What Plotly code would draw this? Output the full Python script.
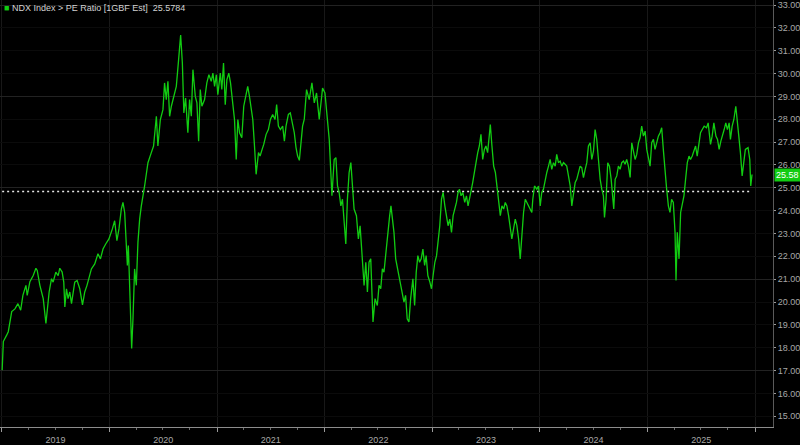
import datetime as dt
import plotly.graph_objects as go

# ---- data (decimal year, PE ratio) ----
years_t = [
    2019.004, 2019.015, 2019.046, 2019.061, 2019.093, 2019.123, 2019.151, 2019.176, 2019.197, 2019.225,
    2019.237, 2019.262, 2019.293, 2019.318, 2019.330, 2019.355, 2019.386, 2019.411, 2019.441, 2019.463,
    2019.478, 2019.503, 2019.525, 2019.540, 2019.562, 2019.577, 2019.587, 2019.602, 2019.617, 2019.633,
    2019.649, 2019.679, 2019.701, 2019.726, 2019.751, 2019.772, 2019.793, 2019.812, 2019.834, 2019.865,
    2019.895, 2019.918, 2019.942, 2019.967, 2019.997, 2020.029, 2020.050, 2020.071, 2020.090, 2020.112,
    2020.127, 2020.143, 2020.158, 2020.168, 2020.177, 2020.189, 2020.198, 2020.208, 2020.220, 2020.235,
    2020.251, 2020.266, 2020.282, 2020.297, 2020.328, 2020.359, 2020.390, 2020.411, 2020.437, 2020.451,
    2020.474, 2020.498, 2020.513, 2020.529, 2020.544, 2020.560, 2020.576, 2020.597, 2020.622, 2020.643,
    2020.662, 2020.678, 2020.692, 2020.708, 2020.729, 2020.745, 2020.761, 2020.776, 2020.798, 2020.813,
    2020.829, 2020.844, 2020.859, 2020.884, 2020.905, 2020.924, 2020.946, 2020.961, 2020.977, 2020.993,
    2021.007, 2021.030, 2021.044, 2021.060, 2021.076, 2021.091, 2021.109, 2021.125, 2021.146, 2021.162,
    2021.178, 2021.193, 2021.209, 2021.230, 2021.248, 2021.271, 2021.285, 2021.301, 2021.317, 2021.332,
    2021.348, 2021.363, 2021.385, 2021.400, 2021.419, 2021.434, 2021.456, 2021.477, 2021.496, 2021.517,
    2021.539, 2021.554, 2021.570, 2021.589, 2021.610, 2021.626, 2021.641, 2021.663, 2021.681, 2021.697,
    2021.718, 2021.734, 2021.749, 2021.765, 2021.795, 2021.811, 2021.832, 2021.857, 2021.882, 2021.904,
    2021.925, 2021.950, 2021.981, 2022.003, 2022.027, 2022.043, 2022.068, 2022.089, 2022.105, 2022.120,
    2022.135, 2022.151, 2022.166, 2022.182, 2022.197, 2022.212, 2022.228, 2022.244, 2022.259, 2022.274,
    2022.296, 2022.314, 2022.330, 2022.351, 2022.367, 2022.383, 2022.398, 2022.413, 2022.429, 2022.450,
    2022.469, 2022.490, 2022.506, 2022.522, 2022.537, 2022.552, 2022.574, 2022.592, 2022.605, 2022.617,
    2022.629, 2022.645, 2022.661, 2022.679, 2022.698, 2022.716, 2022.738, 2022.753, 2022.768, 2022.784,
    2022.800, 2022.821, 2022.837, 2022.852, 2022.867, 2022.883, 2022.898, 2022.914, 2022.930, 2022.944,
    2022.960, 2022.979, 2022.994, 2023.009, 2023.025, 2023.041, 2023.056, 2023.071, 2023.087, 2023.102,
    2023.118, 2023.133, 2023.148, 2023.164, 2023.180, 2023.195, 2023.210, 2023.226, 2023.241, 2023.254,
    2023.269, 2023.285, 2023.303, 2023.319, 2023.334, 2023.349, 2023.365, 2023.377, 2023.393, 2023.408,
    2023.424, 2023.439, 2023.454, 2023.470, 2023.486, 2023.500, 2023.516, 2023.526, 2023.541, 2023.556,
    2023.572, 2023.588, 2023.602, 2023.618, 2023.634, 2023.649, 2023.665, 2023.680, 2023.695, 2023.711,
    2023.727, 2023.741, 2023.757, 2023.773, 2023.788, 2023.804, 2023.819, 2023.834, 2023.850, 2023.866,
    2023.880, 2023.896, 2023.912, 2023.927, 2023.936, 2023.952, 2023.973, 2023.989, 2024.005, 2024.019,
    2024.035, 2024.051, 2024.066, 2024.082, 2024.097, 2024.112, 2024.128, 2024.144, 2024.158, 2024.174,
    2024.190, 2024.205, 2024.221, 2024.236, 2024.251, 2024.267, 2024.283, 2024.298, 2024.313, 2024.329,
    2024.344, 2024.360, 2024.375, 2024.390, 2024.406, 2024.422, 2024.437, 2024.452, 2024.468, 2024.483,
    2024.499, 2024.514, 2024.529, 2024.545, 2024.561, 2024.576, 2024.591, 2024.601, 2024.616, 2024.631,
    2024.647, 2024.663, 2024.677, 2024.687, 2024.700, 2024.715, 2024.730, 2024.746, 2024.761, 2024.777,
    2024.792, 2024.807, 2024.823, 2024.839, 2024.854, 2024.869, 2024.885, 2024.900, 2024.916, 2024.931,
    2024.946, 2024.962, 2024.978, 2024.993, 2025.008, 2025.024, 2025.039, 2025.055, 2025.070, 2025.085,
    2025.101, 2025.117, 2025.132, 2025.147, 2025.163, 2025.178, 2025.194, 2025.209, 2025.224, 2025.240,
    2025.256, 2025.265, 2025.277, 2025.293, 2025.308, 2025.323, 2025.339, 2025.354, 2025.370, 2025.386,
    2025.400, 2025.416, 2025.432, 2025.447, 2025.462, 2025.478, 2025.493, 2025.509, 2025.527, 2025.549,
    2025.564, 2025.586, 2025.601, 2025.617, 2025.636, 2025.651, 2025.666, 2025.682, 2025.697, 2025.713,
    2025.728, 2025.743, 2025.759, 2025.771, 2025.787, 2025.803, 2025.821, 2025.836, 2025.849, 2025.864,
    2025.880, 2025.895, 2025.910, 2025.935, 2025.951, 2025.960, 2025.972,
]

pe_ratio = [
    17.02, 18.27, 18.55, 18.70, 19.58, 19.70, 19.93, 19.64, 20.29, 20.73,
    20.29, 20.89, 21.16, 21.48, 21.38, 20.73, 20.15, 19.06, 20.44, 21.02,
    20.87, 21.31, 21.16, 21.48, 21.31, 20.87, 19.78, 20.58, 20.15, 20.44,
    19.93, 20.87, 20.94, 20.58, 19.88, 20.44, 20.73, 21.09, 21.45, 21.67,
    22.11, 21.89, 22.32, 22.54, 22.76, 23.20, 23.56, 22.69, 23.20, 24.07,
    24.36, 23.92, 22.47, 21.60, 22.47, 20.44, 18.84, 17.97, 19.27, 21.45,
    20.73, 22.62, 23.63, 24.20, 25.08, 26.10, 26.54, 26.83, 28.13, 26.83,
    27.99, 28.42, 29.59, 28.86, 29.66, 28.13, 28.57, 29.00, 29.44, 30.60,
    31.69, 30.46, 28.28, 28.93, 27.41, 28.86, 28.13, 30.17, 29.00, 28.72,
    27.04, 29.30, 28.57, 28.86, 29.59, 29.95, 29.66, 30.02, 29.44, 29.95,
    29.08, 30.02, 29.30, 30.46, 28.64, 29.73, 30.02, 29.59, 28.57, 27.99,
    26.24, 27.99, 27.41, 27.19, 28.57, 29.15, 29.44, 29.00, 28.57, 27.99,
    26.83, 25.59, 26.54, 26.39, 26.68, 26.90, 27.34, 27.55, 27.99, 28.21,
    27.99, 28.64, 27.70, 27.55, 27.70, 27.04, 27.70, 28.21, 28.28, 27.84,
    27.41, 26.76, 26.39, 26.20, 27.70, 28.00, 29.30, 28.86, 29.59, 28.72,
    29.15, 27.99, 29.37, 29.15, 27.99, 27.12, 24.65, 26.24, 26.32, 25.08,
    24.80, 24.21, 24.50, 23.49, 22.54, 24.50, 25.67, 26.10, 25.23, 24.07,
    23.78, 22.76, 23.34, 21.89, 20.73, 21.74, 20.44, 21.74, 21.89, 19.13,
    20.15, 19.85, 20.73, 20.58, 21.45, 21.31, 22.47, 23.34, 23.78, 24.21,
    23.63, 23.05, 21.89, 21.45, 21.02, 20.44, 20.00, 20.29, 19.27, 19.13,
    20.15, 21.02, 19.85, 21.31, 22.03, 21.74, 21.89, 22.32, 21.60, 22.03,
    21.16, 20.87, 20.58, 21.16, 21.74, 22.03, 22.76, 23.34, 24.50, 24.80,
    24.21, 23.78, 23.34, 23.63, 23.05, 23.78, 24.07, 24.36, 24.80, 24.94,
    24.65, 24.80, 24.36, 24.65, 24.21, 24.65, 24.94, 25.23, 25.81, 26.10,
    26.54, 26.83, 27.34, 26.24, 26.68, 26.83, 26.54, 27.12, 27.77, 26.83,
    25.95, 25.67, 25.08, 24.50, 23.78, 24.21, 24.07, 24.36, 24.21, 23.78,
    23.34, 22.76, 23.20, 23.63, 23.34, 22.76, 21.89, 23.05, 23.92, 24.50,
    24.36, 24.21, 24.07, 23.92, 24.50, 25.08, 24.94, 25.08, 24.21, 24.80,
    24.94, 25.37, 25.67, 25.95, 26.24, 25.81, 26.10, 25.95, 26.46, 26.10,
    26.17, 25.95, 26.10, 26.03, 25.95, 25.52, 25.08, 24.21, 24.80, 25.23,
    25.37, 25.74, 25.95, 25.88, 25.45, 25.81, 26.10, 26.83, 26.97, 26.24,
    26.61, 27.55, 27.12, 26.24, 25.37, 24.94, 24.65, 23.70, 24.50, 26.10,
    25.95, 25.37, 24.50, 24.07, 25.37, 25.52, 25.95, 25.81, 26.10, 26.17,
    26.03, 26.24, 25.95, 25.45, 26.97, 26.68, 26.24, 26.46, 26.97, 27.19,
    27.70, 27.26, 27.48, 26.68, 26.39, 25.95, 26.97, 27.12, 26.68, 26.97,
    27.26, 27.41, 27.63, 26.68, 25.67, 24.94, 24.21, 23.92, 24.50, 24.36,
    23.05, 20.94, 23.05, 21.89, 23.92, 24.21, 24.65, 25.37, 26.10, 26.39,
    26.24, 26.39, 26.68, 26.83, 26.39, 26.97, 27.41, 27.55, 27.70, 27.63,
    27.84, 26.90, 27.26, 27.84, 27.26, 27.12, 26.68, 27.04, 27.26, 27.55,
    27.84, 27.55, 27.84, 27.12, 27.70, 27.99, 28.57, 27.99, 27.26, 26.54,
    25.52, 26.10, 26.68, 26.76, 26.24, 25.08, 25.58,
]

average_pe = 24.84
last_value = 25.58
legend_text = "NDX Index > PE Ratio [1GBF Est]  25.5784"


def to_date(t):
    year = int(t)
    start = dt.datetime(year, 1, 1)
    end = dt.datetime(year + 1, 1, 1)
    return start + (end - start) * (t - year)


dates = [to_date(t) for t in years_t]

GREEN = "#12cc12"
TXT = "#a8a8a8"
FONT = "Liberation Sans Narrow, Arial Narrow, Liberation Sans, Arial"

fig = go.Figure()

fig.add_trace(go.Scatter(
    x=[dates[0], dates[-1]], y=[average_pe, average_pe], mode="lines",
    line=dict(color="#e6e6e6", width=1.6, dash="2px,3px"),
    hoverinfo="skip", showlegend=False,
))

fig.add_trace(go.Scatter(
    x=dates, y=pe_ratio, mode="lines",
    line=dict(color=GREEN, width=1.3),
    showlegend=False,
))

# hidden overlay axis for the brighter gridlines
fig.add_trace(go.Scatter(x=[dates[0]], y=[average_pe], yaxis="y2",
                         mode="markers", marker=dict(opacity=0),
                         hoverinfo="skip", showlegend=False))

y_range = [14.53, 33.22]
x_range = [to_date(2018.984), to_date(2026.167)]

fig.update_layout(
    width=800, height=445,
    margin=dict(l=0, r=25, t=0, b=16),
    paper_bgcolor="#000000", plot_bgcolor="#000000",
    font=dict(family=FONT, size=9, color=TXT),
    xaxis=dict(
        type="date", range=x_range,
        dtick="M12", tick0="2019-01-01", tickformat="%Y",
        ticklabelmode="period",
        ticks="outside", ticklen=4, tickcolor="#9a9a9a",
        showgrid=True, gridcolor="#181818", gridwidth=1,
        showline=True, linecolor="#8c8c8c", linewidth=1,
        zeroline=False,
        minor=dict(dtick="M3", tick0="2019-01-01", ticks="outside",
                   ticklen=2, tickcolor="#6a6a6a", showgrid=False),
        tickfont=dict(family=FONT, size=9, color=TXT),
    ),
    yaxis=dict(
        range=y_range, side="right", dtick=1, tick0=15,
        tickformat=".2f",
        ticks="outside", ticklen=2, tickcolor="#9a9a9a",
        showgrid=True, gridcolor="#0b0b0b", gridwidth=1,
        showline=True, linecolor="#5a5a5a", linewidth=1,
        zeroline=False,
        tickfont=dict(family=FONT, size=9, color=TXT),
    ),
    yaxis2=dict(
        range=y_range, overlaying="y", side="right", dtick=4, tick0=17,
        showticklabels=False, ticks="", showgrid=True,
        gridcolor="#222222", gridwidth=1, zeroline=False, showline=False,
    ),
    annotations=[
        dict(xref="paper", yref="paper", x=0, y=1, xanchor="left", yanchor="top",
             xshift=2, yshift=-1, showarrow=False,
             text=f"<span style='color:{GREEN}'>■</span> {legend_text}",
             font=dict(family=FONT, size=9, color="#d2d2d2")),
        dict(xref="paper", yref="y", x=1, y=last_value, xanchor="left", yanchor="middle",
             xshift=1, showarrow=False, text=f"{last_value:.2f}",
             bgcolor=GREEN, borderpad=1,
             font=dict(family=FONT, size=9, color="#ffffff")),
    ],
)

fig.write_html(
    "out.html",
    config={"displayModeBar": False},
    post_script="document.body.style.margin='0';document.body.style.padding='0';"
                "document.body.style.background='#000';",
)
